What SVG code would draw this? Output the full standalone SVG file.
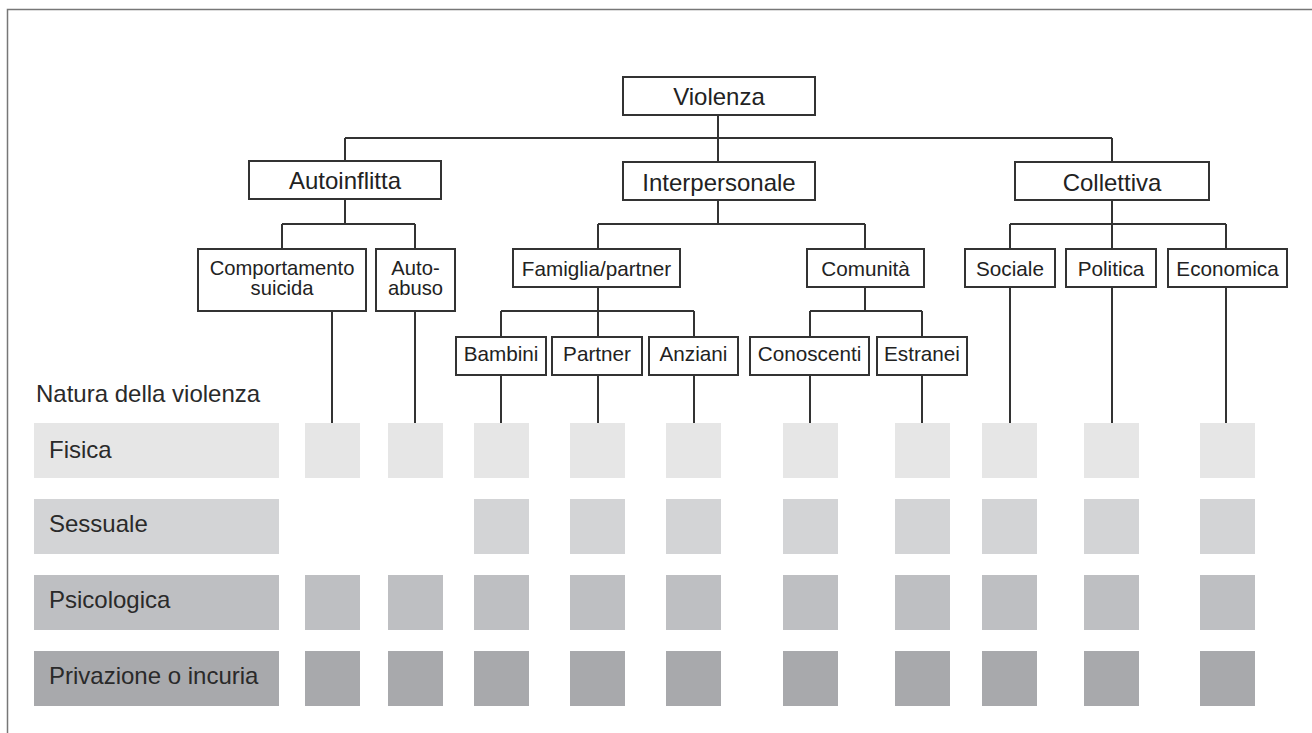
<svg xmlns="http://www.w3.org/2000/svg" width="1312" height="733" viewBox="0 0 1312 733">
<style>
.box{fill:#fff;stroke:#333;stroke-width:2}
.big{font-family:"Liberation Sans",Arial,sans-serif;font-size:24px;fill:#222;text-anchor:middle}
.sm{font-family:"Liberation Sans",Arial,sans-serif;font-size:20.7px;fill:#222;text-anchor:middle}
.two{font-family:"Liberation Sans",Arial,sans-serif;font-size:20.2px;fill:#222;text-anchor:middle}
.lab{font-family:"Liberation Sans",Arial,sans-serif;font-size:24px;fill:#2a2a2a}
.conn{fill:none;stroke:#333;stroke-width:2}
.r1{fill:#e6e6e6}.r2{fill:#d3d4d6}.r3{fill:#bebfc2}.r4{fill:#a8a9ac}
</style>
<rect width="1312" height="733" fill="#fff"/>
<path d="M7.5,733 V9.5 H1312" fill="none" stroke="#777" stroke-width="1.5"/>
<g id="connectors" class="conn">
<path d="M718,115 V138 M345,138 H1112 M345,138 V161 M718,138 V162 M1112,138 V162"/>
<path d="M345,199 V224 M282,224 H415 M282,224 V249 M415,224 V249"/>
<path d="M718,200 V224 M598,224 H865 M598,224 V249 M865,224 V249"/>
<path d="M1112,200 V224 M1010,224 H1226 M1010,224 V249 M1112,224 V249 M1226,224 V249"/>
<path d="M598,287 V311 M501,311 H694 M501,311 V337 M598,311 V337 M694,311 V337"/>
<path d="M865,287 V311 M810,311 H922 M810,311 V337 M922,311 V337"/>
<path d="M332,311 V423 M415,311 V423 M501,375 V423 M598,375 V423 M694,375 V423 M810,375 V423 M922,375 V423 M1010,287 V423 M1112,287 V423 M1226,287 V423"/>
</g>
<g id="n-violenza"><rect class="box" x="623" y="77" width="192" height="38"/><text class="big" x="719" y="105">Violenza</text></g>
<g id="n-autoinflitta"><rect class="box" x="249" y="161" width="192" height="38"/><text class="big" x="345" y="189">Autoinflitta</text></g>
<g id="n-interpersonale"><rect class="box" x="623" y="162" width="192" height="38"/><text class="big" x="719" y="190.5">Interpersonale</text></g>
<g id="n-collettiva"><rect class="box" x="1015" y="162" width="194" height="38"/><text class="big" x="1112" y="190.5">Collettiva</text></g>
<g id="n-comportamento"><rect class="box" x="198" y="249" width="168" height="62"/><text class="two" x="282" y="275">Comportamento</text><text class="two" x="282" y="295">suicida</text></g>
<g id="n-autoabuso"><rect class="box" x="376" y="249" width="79" height="62"/><text class="two" x="415.5" y="275">Auto-</text><text class="two" x="415.5" y="295">abuso</text></g>
<g id="n-famiglia"><rect class="box" x="513" y="249" width="167" height="38"/><text class="sm" x="596.5" y="276">Famiglia/partner</text></g>
<g id="n-comunita"><rect class="box" x="807" y="249" width="117" height="38"/><text class="sm" x="865.5" y="276">Comunità</text></g>
<g id="n-sociale"><rect class="box" x="965" y="249" width="90" height="38"/><text class="sm" x="1010" y="276">Sociale</text></g>
<g id="n-politica"><rect class="box" x="1066" y="249" width="90" height="38"/><text class="sm" x="1111" y="276">Politica</text></g>
<g id="n-economica"><rect class="box" x="1168" y="249" width="119" height="38"/><text class="sm" x="1227.5" y="276">Economica</text></g>
<g id="n-bambini"><rect class="box" x="456" y="337" width="90" height="38"/><text class="sm" x="501" y="361">Bambini</text></g>
<g id="n-partner"><rect class="box" x="552" y="337" width="90" height="38"/><text class="sm" x="597" y="361">Partner</text></g>
<g id="n-anziani"><rect class="box" x="649" y="337" width="89" height="38"/><text class="sm" x="693.5" y="361">Anziani</text></g>
<g id="n-conoscenti"><rect class="box" x="750" y="337" width="119" height="38"/><text class="sm" x="809.5" y="361">Conoscenti</text></g>
<g id="n-estranei"><rect class="box" x="877" y="337" width="90" height="38"/><text class="sm" x="922" y="361">Estranei</text></g>
<text class="lab" x="36" y="401.5">Natura della violenza</text>
<g id="row-fisica" class="r1">
<rect x="34" y="423" width="245" height="55"/>
<rect x="305" y="423" width="55" height="55"/><rect x="388" y="423" width="55" height="55"/><rect x="474" y="423" width="55" height="55"/><rect x="570" y="423" width="55" height="55"/><rect x="666" y="423" width="55" height="55"/><rect x="783" y="423" width="55" height="55"/><rect x="895" y="423" width="55" height="55"/><rect x="982" y="423" width="55" height="55"/><rect x="1084" y="423" width="55" height="55"/><rect x="1200" y="423" width="55" height="55"/>
</g>
<g id="row-sessuale" class="r2">
<rect x="34" y="499" width="245" height="55"/>
<rect x="474" y="499" width="55" height="55"/><rect x="570" y="499" width="55" height="55"/><rect x="666" y="499" width="55" height="55"/><rect x="783" y="499" width="55" height="55"/><rect x="895" y="499" width="55" height="55"/><rect x="982" y="499" width="55" height="55"/><rect x="1084" y="499" width="55" height="55"/><rect x="1200" y="499" width="55" height="55"/>
</g>
<g id="row-psicologica" class="r3">
<rect x="34" y="575" width="245" height="55"/>
<rect x="305" y="575" width="55" height="55"/><rect x="388" y="575" width="55" height="55"/><rect x="474" y="575" width="55" height="55"/><rect x="570" y="575" width="55" height="55"/><rect x="666" y="575" width="55" height="55"/><rect x="783" y="575" width="55" height="55"/><rect x="895" y="575" width="55" height="55"/><rect x="982" y="575" width="55" height="55"/><rect x="1084" y="575" width="55" height="55"/><rect x="1200" y="575" width="55" height="55"/>
</g>
<g id="row-privazione" class="r4">
<rect x="34" y="651" width="245" height="55"/>
<rect x="305" y="651" width="55" height="55"/><rect x="388" y="651" width="55" height="55"/><rect x="474" y="651" width="55" height="55"/><rect x="570" y="651" width="55" height="55"/><rect x="666" y="651" width="55" height="55"/><rect x="783" y="651" width="55" height="55"/><rect x="895" y="651" width="55" height="55"/><rect x="982" y="651" width="55" height="55"/><rect x="1084" y="651" width="55" height="55"/><rect x="1200" y="651" width="55" height="55"/>
</g>
<text class="lab" x="49" y="457.5">Fisica</text>
<text class="lab" x="49" y="532">Sessuale</text>
<text class="lab" x="49" y="608">Psicologica</text>
<text class="lab" x="49" y="684">Privazione o incuria</text>
</svg>
